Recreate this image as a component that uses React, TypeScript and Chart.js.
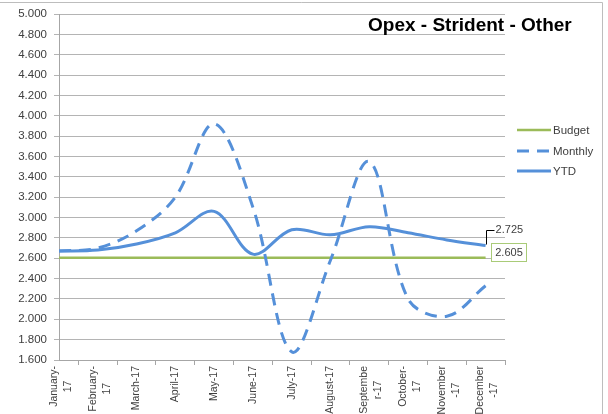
import React, { useEffect, useRef } from "react";
import { Chart, registerables } from "chart.js";

Chart.register(...registerables);

// ---- data ----
const monthLabels: string[][] = [
  ["January-", "17"],
  ["February-", "17"],
  ["March-17"],
  ["April-17"],
  ["May-17"],
  ["June-17"],
  ["July-17"],
  ["August-17"],
  ["Septembe", "r-17"],
  ["October-", "17"],
  ["November", "-17"],
  ["December", "-17"],
];
const budget = [2.605, 2.605, 2.605, 2.605, 2.605, 2.605, 2.605, 2.605, 2.605, 2.605, 2.605, 2.605];
const monthly = [2.67, 2.7, 2.87, 3.2, 3.92, 3.1, 1.68, 2.58, 3.55, 2.2, 2.03, 2.33];
const ytd = [2.67, 2.68, 2.74, 2.85, 3.06, 2.64, 2.88, 2.83, 2.91, 2.85, 2.78, 2.725];
const seriesNames = ["Budget", "Monthly", "YTD"];
const chartTitle = "Opex - Strident - Other";
const yMin = 1.6;
const yMax = 5.0;
const yStep = 0.2;

// ---- styles ----
const BLUE = "#5590d9";
const GREEN = "#9bbb59";
const GRID = "#b4b4b4";
const AXIS = "#a6a6a6";
const TEXT = "#404040";
const FONT = '"Liberation Sans", Arial, sans-serif';

const decorPlugin = {
  id: "decor",
  beforeDraw(chart: any) {
    const ctx = chart.ctx;
    ctx.save();
    ctx.fillStyle = "#ffffff";
    ctx.fillRect(0, 0, chart.width, chart.height);
    ctx.strokeStyle = "#bdbdbd";
    ctx.lineWidth = 1;
    ctx.beginPath();
    ctx.moveTo(0, 2.5);
    ctx.lineTo(602.5, 2.5);
    ctx.lineTo(602.5, chart.height);
    ctx.stroke();
    ctx.restore();
  },
  afterDraw(chart: any) {
    const ctx = chart.ctx;
    const xs = chart.scales.x;
    const area = chart.chartArea;

    // x category labels (rotated)
    ctx.save();
    ctx.font = `10.5px ${FONT}`;
    ctx.fillStyle = TEXT;
    ctx.textAlign = "center";
    ctx.textBaseline = "middle";
    monthLabels.forEach((lines, i) => {
      const px = xs.getPixelForValue(i);
      const w = Math.max(...lines.map((l) => ctx.measureText(l).width));
      const lh = 14;
      const top = area.bottom + 6;
      ctx.save();
      ctx.translate(px + (lines.length > 1 ? 2 : 0), top + w / 2);
      ctx.rotate(-Math.PI / 2);
      lines.forEach((l, j) => {
        ctx.fillText(l, 0, (j - (lines.length - 1) / 2) * lh);
      });
      ctx.restore();
    });
    ctx.restore();

    // title
    ctx.save();
    ctx.font = `bold 19px ${FONT}`;
    ctx.fillStyle = "#000000";
    ctx.textAlign = "left";
    ctx.textBaseline = "alphabetic";
    ctx.fillText(chartTitle, 368, 31);
    ctx.restore();

    // legend
    const legendStyles = [
      { color: GREEN, dash: [] as number[], width: 2.5 },
      { color: BLUE, dash: [12, 8], width: 3 },
      { color: BLUE, dash: [] as number[], width: 3 },
    ];
    const legendY = [130, 151, 171];
    ctx.save();
    ctx.font = `11.5px ${FONT}`;
    ctx.textAlign = "left";
    ctx.textBaseline = "middle";
    seriesNames.forEach((name, i) => {
      const st = legendStyles[i];
      ctx.strokeStyle = st.color;
      ctx.lineWidth = st.width;
      ctx.setLineDash(st.dash);
      ctx.beginPath();
      ctx.moveTo(517, legendY[i]);
      ctx.lineTo(551, legendY[i]);
      ctx.stroke();
      ctx.setLineDash([]);
      ctx.fillStyle = TEXT;
      ctx.fillText(name, 553, legendY[i] + 0.5);
    });
    ctx.restore();

    // data labels on last points
    const ytdMeta = chart.getDatasetMeta(0);
    const budMeta = chart.getDatasetMeta(2);
    const last = ytd.length - 1;
    const p1 = ytdMeta.data[last];
    const p2 = budMeta.data[last];
    ctx.save();
    ctx.strokeStyle = "#000000";
    ctx.lineWidth = 1;
    ctx.beginPath();
    ctx.moveTo(Math.round(p1.x) + 0.5, p1.y - 1);
    ctx.lineTo(Math.round(p1.x) + 0.5, Math.round(p1.y - 16) + 0.5);
    ctx.lineTo(Math.round(p1.x) + 8.5, Math.round(p1.y - 16) + 0.5);
    ctx.stroke();
    ctx.font = `11px ${FONT}`;
    ctx.fillStyle = TEXT;
    ctx.textAlign = "left";
    ctx.textBaseline = "middle";
    ctx.fillText(ytd[last].toFixed(3), p1.x + 10, p1.y - 16);

    const bx = Math.round(p2.x) + 5.5;
    const by = Math.round(p2.y) - 14.5;
    ctx.fillStyle = "#ffffff";
    ctx.fillRect(bx, by, 35, 18);
    ctx.strokeStyle = "#a9cb78";
    ctx.strokeRect(bx, by, 35, 18);
    ctx.fillStyle = TEXT;
    ctx.textAlign = "center";
    ctx.fillText(budget[last].toFixed(3), bx + 17.5, by + 9.5);
    ctx.restore();
  },
};

export default function App() {
  const canvasRef = useRef<HTMLCanvasElement | null>(null);

  useEffect(() => {
    const canvas = canvasRef.current;
    if (!canvas) return;
    const toPts = (arr: number[]) => arr.map((y, i) => ({ x: i, y }));
    const chart = new Chart(canvas, {
      type: "line",
      data: {
        datasets: [
          {
            label: seriesNames[2],
            data: toPts(ytd),
            borderColor: BLUE,
            backgroundColor: BLUE,
            borderWidth: 3,
            pointRadius: 0,
            tension: 0.35,
            fill: false,
          },
          {
            label: seriesNames[1],
            data: toPts(monthly),
            borderColor: BLUE,
            backgroundColor: BLUE,
            borderWidth: 3,
            borderDash: [12, 8],
            pointRadius: 0,
            tension: 0.35,
            fill: false,
          },
          {
            label: seriesNames[0],
            data: toPts(budget),
            borderColor: GREEN,
            backgroundColor: GREEN,
            borderWidth: 2.5,
            pointRadius: 0,
            tension: 0,
            fill: false,
          },
        ],
      },
      options: {
        responsive: false,
        animation: false,
        events: [],
        layout: { padding: { left: 0, right: 103, top: 14, bottom: 0 } },
        elements: { line: { capBezierPoints: false } },
        plugins: {
          legend: { display: false },
          tooltip: { enabled: false },
          title: { display: false },
        },
        scales: {
          x: {
            type: "linear",
            min: 0,
            max: 11.5,
            afterBuildTicks: (s: any) => {
              s.ticks = monthLabels.map((_, i) => ({ value: i }));
            },
            afterFit: (s: any) => {
              s.height = 54;
            },
            ticks: { display: false },
            grid: {
              offset: true,
              drawOnChartArea: false,
              drawTicks: true,
              tickLength: 5,
              color: AXIS,
            },
            border: { display: true, color: AXIS, width: 1 },
          },
          y: {
            min: yMin,
            max: yMax,
            afterFit: (s: any) => {
              s.width = 59;
            },
            ticks: {
              stepSize: yStep,
              callback: (v: any) => Number(v).toFixed(3),
              font: { family: FONT, size: 11.5 },
              color: TEXT,
              padding: 7,
            },
            grid: { color: GRID, tickLength: 5, lineWidth: 1 },
            border: { display: true, color: AXIS, width: 1 },
          },
        },
      },
      plugins: [decorPlugin],
    } as any);
    return () => chart.destroy();
  }, []);

  return (
    <canvas
      ref={canvasRef}
      width={608}
      height={414}
      style={{ position: "absolute", left: 0, top: 0, width: 608, height: 414 }}
    />
  );
}
